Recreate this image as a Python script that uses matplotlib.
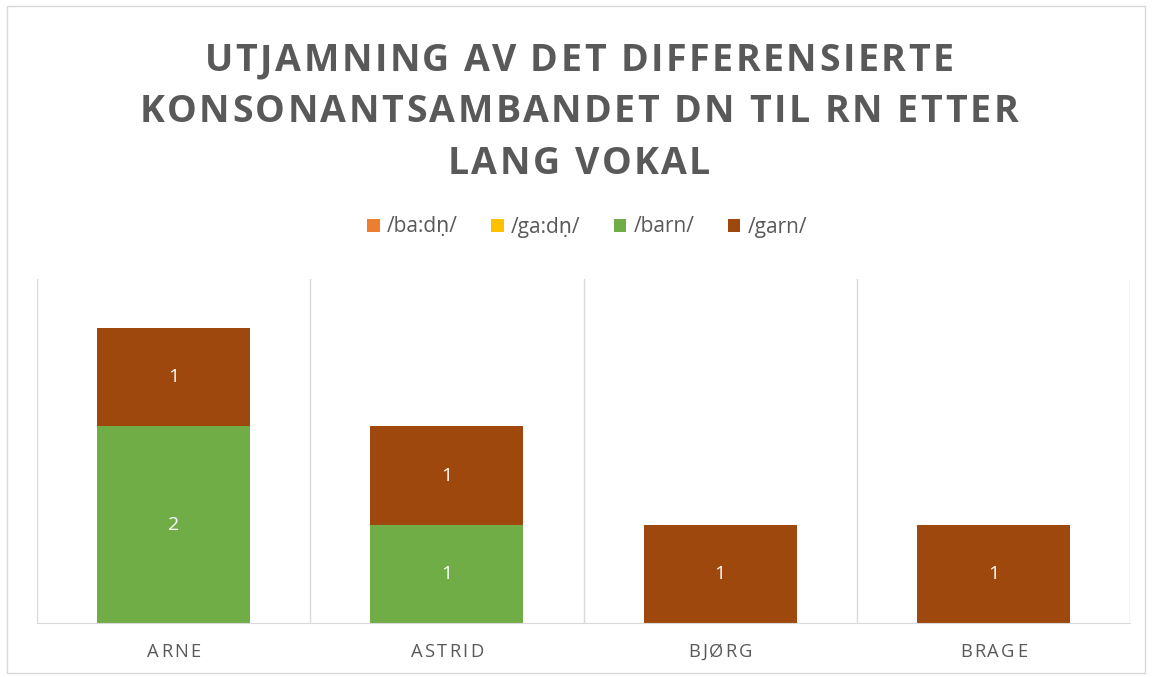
import numpy as np
import matplotlib.pyplot as plt
from matplotlib.patches import Rectangle

speakers = ['ARNE', 'ASTRID', 'BJØRG', 'BRAGE']
series_names = ['/ba:dṇ/', '/ga:dṇ/', '/barn/', '/garn/']
badn = [0, 0, 0, 0]
gadn = [0, 0, 0, 0]
barn = [2, 1, 0, 0]
garn = [1, 1, 1, 1]
colors = ['#ED7D31', '#FFC000', '#70AD47', '#9E480E']
title_lines = ['UTJAMNING AV DET DIFFERENSIERTE',
               'KONSONANTSAMBANDET DN TIL RN ETTER',
               'LANG VOKAL']

plt.rcParams['font.family'] = ['Open Sans', 'DejaVu Sans']

W, H = 1152, 677
fig = plt.figure(figsize=(W / 100, H / 100), dpi=100)
fig.patches.append(Rectangle((0.006, 0.006), 0.988, 0.985, transform=fig.transFigure,
                             fill=False, edgecolor='#d9d9d9', linewidth=1))
ax = fig.add_axes([0.0321, 0.0798, 0.9489, 0.508])

x = np.arange(len(speakers))
bottom = np.zeros(len(speakers))
for name, vals, c in zip(series_names, [badn, gadn, barn, garn], colors):
    vals = np.array(vals, dtype=float)
    ax.bar(x, vals, 0.56, bottom=bottom, color=c, label=name)
    for xi, b, v in zip(x, bottom, vals):
        if v > 0:
            ax.text(xi, b + v / 2, f'{int(v)}', ha='center', va='center',
                    color='white', fontsize=14)
    bottom += vals

ax.set_xlim(-0.5, len(speakers) - 0.5)
ax.set_ylim(0, 3.5)
ax.set_yticks([])
ax.set_xticks(x)
ax.set_xticklabels([])
ax.tick_params(axis='x', length=0)
for xb in np.arange(-0.5, len(speakers), 1):
    ax.axvline(xb, color='#d9d9d9', linewidth=1, zorder=0)
for s in ['top', 'right', 'left']:
    ax.spines[s].set_visible(False)
ax.spines['bottom'].set_color('#d9d9d9')

fig.canvas.draw()
renderer = fig.canvas.get_renderer()


def text_width(s, **kw):
    t = fig.text(0, 0, s + '|', **kw)
    w = t.get_window_extent(renderer).width
    t.remove()
    t = fig.text(0, 0, '|', **kw)
    w -= t.get_window_extent(renderer).width
    t.remove()
    return w


def spaced_text(cx, baseline, s, spacing, **kw):
    # letter-spaced text, cx/baseline in pixels from top-left
    total = text_width(s, **kw) + spacing * (len(s) - 1)
    left = cx - total / 2
    for i, ch in enumerate(s):
        if ch == ' ':
            continue
        xp = left + text_width(s[:i], **kw) + spacing * i if i else left
        fig.text(xp / W, 1 - baseline / H, ch, ha='left', va='baseline', **kw)


for i, line in enumerate(title_lines):
    spaced_text(W / 2 + 3, 71 + 51.3 * i, line, 2.5, fontsize=27,
                fontweight='bold', color='#595959')

for xi, name in zip(x, speakers):
    cx = ax.transData.transform((xi, 0))[0]
    spaced_text(cx, 657, name, 2.2, fontsize=13.2, color='#595959')

fig.legend(loc='center', bbox_to_anchor=(587 / W, 1 - 227 / H), ncol=4, frameon=False,
           fontsize=15, labelcolor='#595959', handlelength=0.6, handleheight=0.6,
           handletextpad=0.35, columnspacing=1.6)

fig.savefig('out.png', dpi=100)
